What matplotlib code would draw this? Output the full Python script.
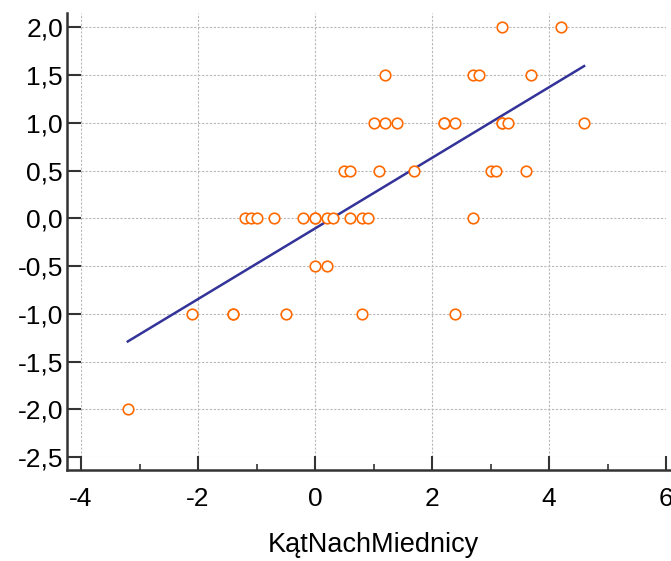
import numpy as np
import matplotlib
matplotlib.use("Agg")
import matplotlib.pyplot as plt
from matplotlib.ticker import MultipleLocator, FuncFormatter

plt.rcParams["font.family"] = ["Liberation Sans", "DejaVu Sans"]
plt.rcParams["axes.unicode_minus"] = False

# KatNachMiednicy vs. outcome
kat = [3.2, 4.2,
       1.2, 2.7, 2.8, 3.7,
       1.0, 1.2, 1.4, 2.2, 2.2, 2.4, 3.2, 3.2, 3.3, 4.6,
       0.5, 0.6, 1.1, 1.7, 3.0, 3.1, 3.6,
       -1.2, -1.1, -1.0, -0.7, -0.2, 0.0, 0.0, 0.2, 0.3, 0.6, 0.8, 0.9, 2.7,
       0.0, 0.2,
       -2.1, -1.4, -1.4, -0.5, 0.8, 2.4,
       -3.2]
wynik = [2.0, 2.0,
         1.5, 1.5, 1.5, 1.5,
         1.0, 1.0, 1.0, 1.0, 1.0, 1.0, 1.0, 1.0, 1.0, 1.0,
         0.5, 0.5, 0.5, 0.5, 0.5, 0.5, 0.5,
         0.0, 0.0, 0.0, 0.0, 0.0, 0.0, 0.0, 0.0, 0.0, 0.0, 0.0, 0.0, 0.0,
         -0.5, -0.5,
         -1.0, -1.0, -1.0, -1.0, -1.0, -1.0,
         -2.0]
xlabel = "KątNachMiednicy"

x = np.array(kat)
y = np.array(wynik)
slope, intercept = np.polyfit(x, y, 1)
xl = np.array([x.min(), x.max()])

fig = plt.figure(figsize=(6.71, 5.61), dpi=100)
ax = fig.add_axes([81 / 671, 1 - 457 / 561, 585 / 671, 444 / 561])

ax.grid(True, color="#b8b8b8", linestyle=(0, (2, 1.5)), linewidth=0.8)
ax.set_axisbelow(True)
ax.plot(xl, slope * xl + intercept, color="#333399", linewidth=1.8, zorder=2)
ax.plot(x, y, "o", markerfacecolor="white", markeredgecolor="#ff6a00",
        markersize=7.6, markeredgewidth=1.2, zorder=3, clip_on=False)

ax.set_xlim(-4, 6)
ax.set_ylim(-2.5, 2.15)

for s in ["top", "right"]:
    ax.spines[s].set_visible(False)
ax.spines["left"].set_position(("outward", 10))
ax.spines["bottom"].set_position(("outward", 9.5))
ax.spines["left"].set_bounds(-2.64, 2.15)
ax.spines["bottom"].set_bounds(-4.24, 6.2)
for s in ["left", "bottom"]:
    ax.spines[s].set_linewidth(1.8)
    ax.spines[s].set_color("#333333")

ax.xaxis.set_major_locator(MultipleLocator(2))
ax.xaxis.set_minor_locator(MultipleLocator(1))
ax.yaxis.set_major_locator(MultipleLocator(0.5))
ax.yaxis.set_major_formatter(FuncFormatter(lambda v, p: f"{v:.1f}".replace(".", ",")))

ax.tick_params(axis="both", which="major", direction="in", length=10,
               width=1.5, color="#333333", labelsize=19)
ax.tick_params(axis="x", which="minor", direction="in", length=4,
               width=1.2, color="#333333")
ax.tick_params(axis="x", which="major", pad=12)
ax.tick_params(axis="y", which="major", pad=3)

ax.set_xlabel(xlabel, fontsize=19.5, labelpad=15)

fig.savefig("out.png", dpi=100)
